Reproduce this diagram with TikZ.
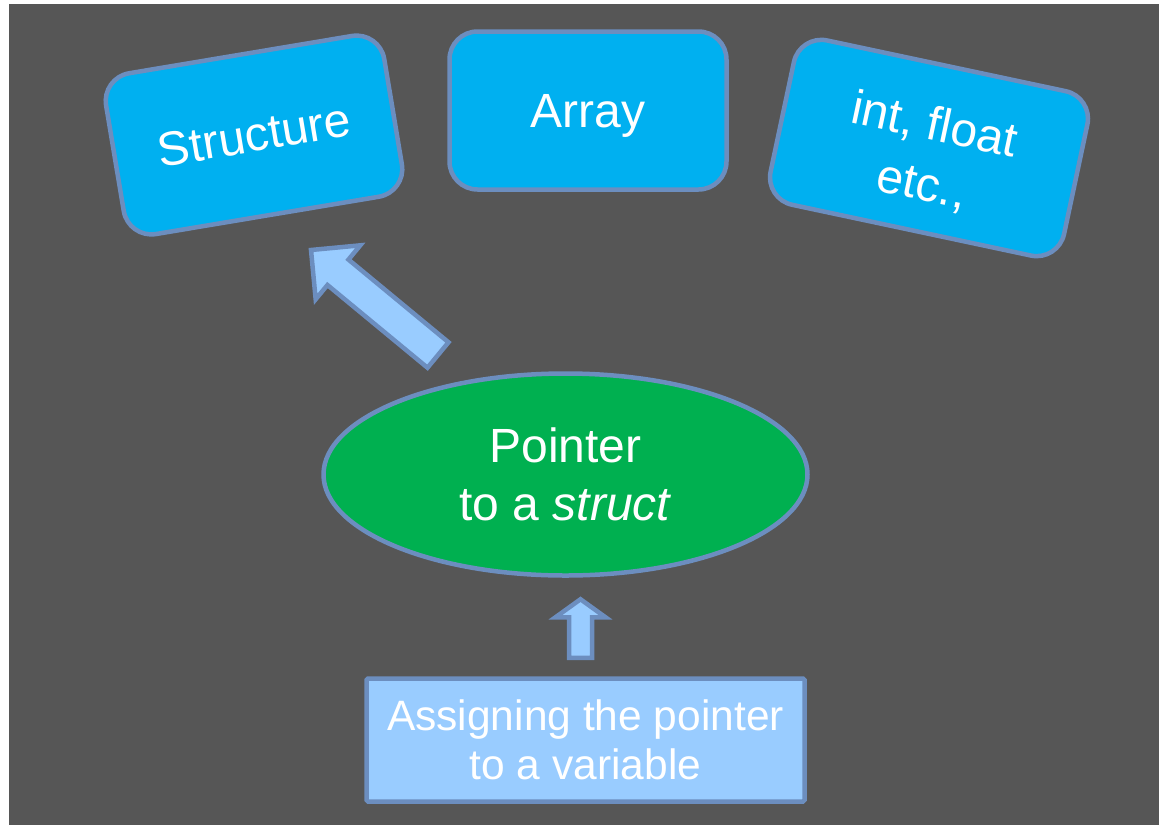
\documentclass[tikz,border=0pt]{standalone}
\usepackage{fontspec}
\setmainfont{Liberation Sans}
\usetikzlibrary{shapes.geometric,calc}

\definecolor{slide}{HTML}{565656}
\definecolor{cyanbox}{HTML}{00B0F0}
\definecolor{greenbox}{HTML}{00B050}
\definecolor{lightblue}{HTML}{99CCFF}
\definecolor{edgeblue}{HTML}{6C8EBF}

% block arrow from #1 (tail) to #2 (tip): shaft half width #3, head half width #4, head length #5
\newcommand\bArrow[5]{%
  \draw[barrow]
    ($(#1)!#3!90:(#2)$)
    -- ($ ($(#2)!#5!(#1)$)!#3!90:(#2) $)
    -- ($ ($(#2)!#5!(#1)$)!#4!90:(#2) $)
    -- (#2)
    -- ($ ($(#2)!#5!(#1)$)!#4!-90:(#2) $)
    -- ($ ($(#2)!#5!(#1)$)!#3!-90:(#2) $)
    -- ($(#1)!#3!-90:(#2)$)
    -- cycle;}

\tikzset{
  typebox/.style={draw=edgeblue, line width=4.5pt, fill=cyanbox, text=white,
    rounded corners=28pt, minimum width=277pt, minimum height=158pt,
    align=center, inner sep=0pt, font=\fontsize{48}{58}\selectfont},
  typetext/.style={text=white, align=center, inner sep=0pt,
    font=\fontsize{48}{61}\selectfont},
  ptrnode/.style={ellipse, draw=edgeblue, line width=4.5pt, fill=greenbox, text=white,
    minimum width=484pt, minimum height=202pt, align=center, inner sep=0pt,
    font=\fontsize{48}{58}\selectfont},
  assignbox/.style={draw=edgeblue, line width=4.5pt, fill=lightblue, text=white,
    rounded corners=1.5pt, minimum width=438pt, minimum height=123pt,
    align=center, inner sep=0pt, font=\fontsize{42.5}{49}\selectfont},
  barrow/.style={draw=edgeblue, line width=4.5pt, fill=lightblue, line join=miter},
}

\begin{document}
\begin{tikzpicture}[x=1pt, y=-1pt]
  \useasboundingbox (0,0) rectangle (1159,825);
  \fill[white] (0,0) rectangle (1159,825);
  \fill[slide] (9,4) rectangle (1159,825);

  % data types a pointer may refer to
  \node[typebox, rotate=9.5, minimum width=282pt, minimum height=163pt]
    (structure) at (254,135) {Structure};
  \node[typebox, text depth=0pt] (array) at (588,110.5) {Array};
  \node[typebox, rotate=-12, minimum width=300pt, minimum height=168pt]
    (scalar) at (929,148) {};
  \node[typetext, rotate=-12] (scalartext) at ($(scalar.center)+(-1,8)$) {int, float\\etc.,};

  % the pointer itself
  \node[ptrnode] (pointer) at (565.5,474.5) {Pointer\\to a \textit{struct}};

  % source of the pointer
  \node[assignbox] (assign) at (585.5,740) {Assigning the pointer\\to a variable};

  % block arrows
  \coordinate (bigtail) at (438,355);
  \coordinate (bigtip) at (311,250);
  \bArrow{bigtail}{bigtip}{16.5pt}{35pt}{35pt}

  \coordinate (smalltail) at ($(assign.north)+(-5,-18.5)$);
  \coordinate (smalltip) at ($(smalltail |- pointer.south)+(0,21.5)$);
  \bArrow{smalltail}{smalltip}{11.5pt}{25pt}{18pt}
\end{tikzpicture}
\end{document}
